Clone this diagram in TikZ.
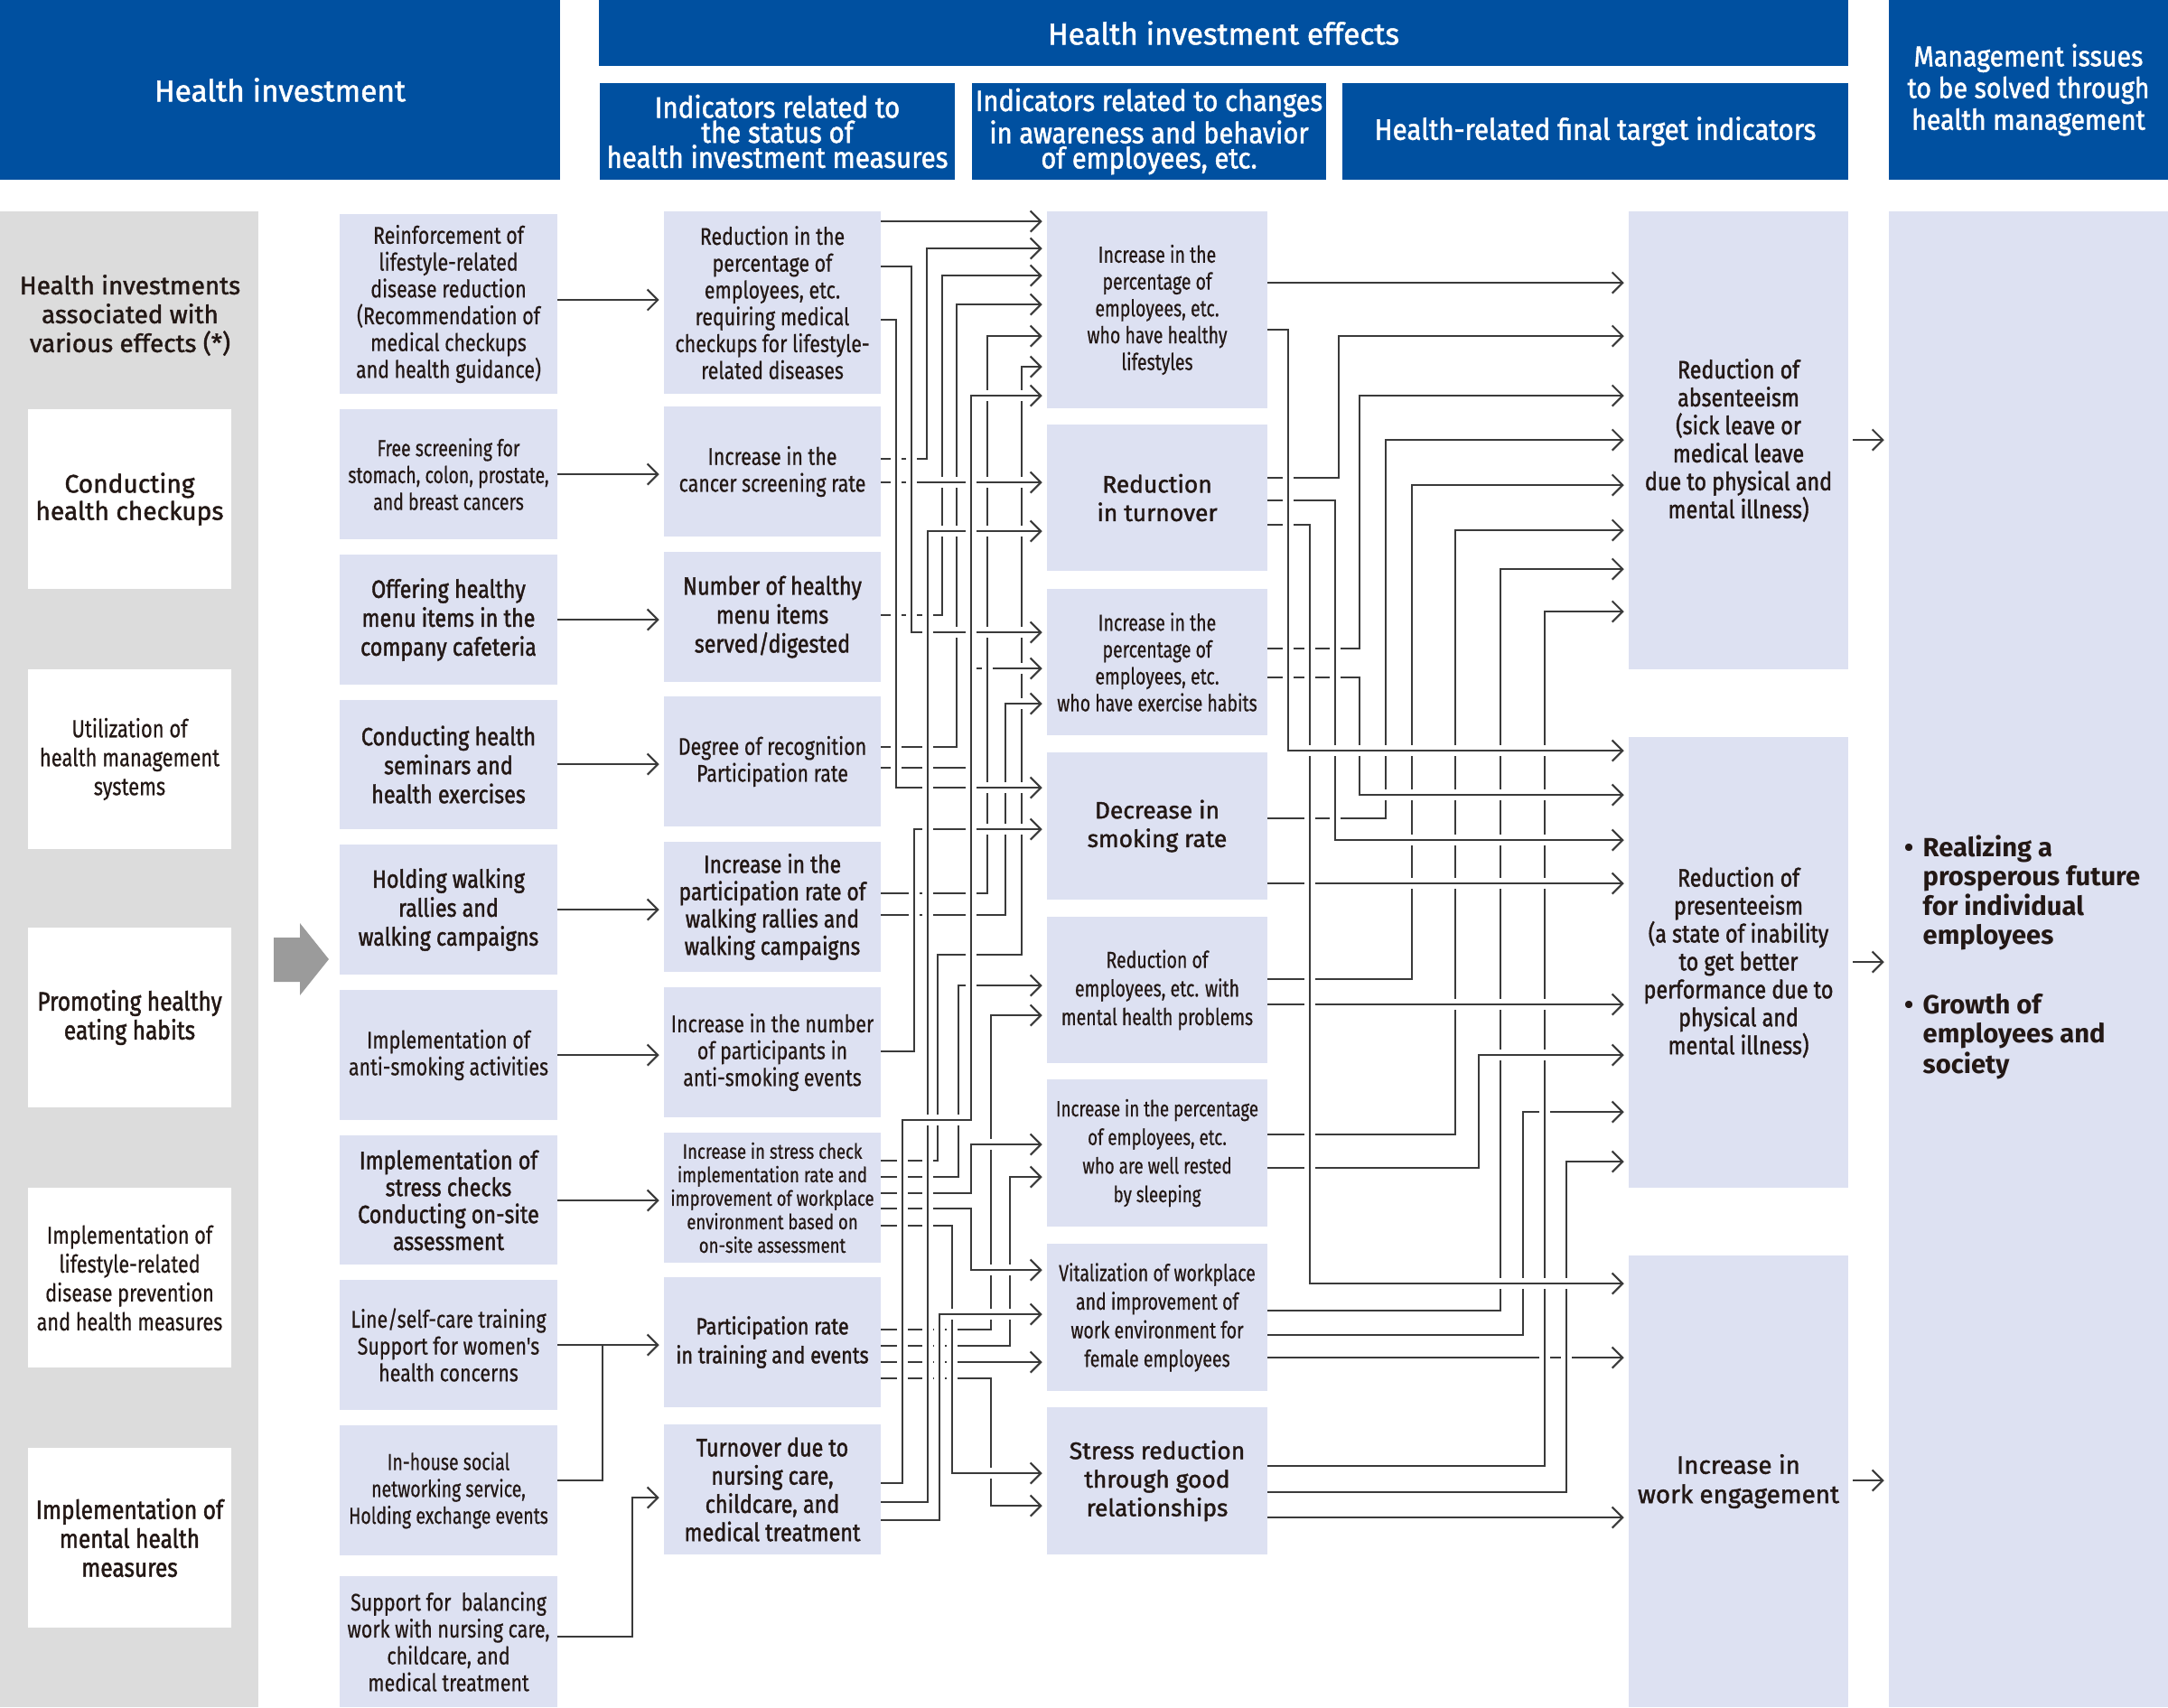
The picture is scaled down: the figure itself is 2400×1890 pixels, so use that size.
\documentclass[tikz,border=0pt]{standalone}
\usepackage{fontspec}
\setmainfont{Fira Sans}
\newfontfamily\cf{Fira Sans}[FakeStretch=0.8,FakeBold=0.5]
\newfontfamily\cfn{Fira Sans}[FakeStretch=0.76,FakeBold=0.5]
\newfontfamily\cmf{Fira Sans}[FakeStretch=0.84,FakeBold=1.5]
\newfontfamily\mf{Fira Sans}[FakeBold=1.5]
\newfontfamily\hf{Fira Sans}[FakeStretch=0.9,FakeBold=1.5]
\usetikzlibrary{arrows.meta}
\definecolor{hblue}{HTML}{0050A0}
\definecolor{lav}{HTML}{DDE1F2}
\definecolor{lgray}{HTML}{DCDCDC}
\definecolor{ln}{HTML}{3A3A3A}
\definecolor{tx}{HTML}{231815}
\definecolor{arrg}{HTML}{9B9B9B}
\newcommand\mkbox[7]{\node[#6, minimum width={0.01cm*(#4-#2)}, minimum height={0.01cm*(#5-#3)}] (#1) at ({(#2+#4)/2},{(#3+#5)/2}) {#7};}
\tikzset{
 base/.style={inner sep=0pt, outer sep=0pt, align=center, text=tx},
 lbox/.style={base, fill=lav},
 wbox/.style={base, fill=white},
 gbox/.style={base, fill=lgray},
 hbox/.style={base, fill=hblue, text=white},
 tC/.style={font=\cf\fontsize{7.6}{8.45}\selectfont},
 tN/.style={font=\cfn\fontsize{7.3}{8.45}\selectfont},
 tCM/.style={font=\cmf\fontsize{7.9}{9.1}\selectfont},
 tM/.style={font=\mf\fontsize{7.5}{9}\selectfont},
 tS/.style={font=\cf\fontsize{6.6}{7.4}\selectfont},
 tR/.style={font=\cmf\fontsize{7.9}{8.8}\selectfont},
 cn/.style={draw=ln, line width=0.6pt, preaction={draw=white, line width=3.6pt, -}},
 pl/.style={draw=ln, line width=0.6pt},
 ar/.style={-{Straight Barb[length=3.3pt,width=6.6pt]}, shorten >=1.5pt},
}
\begin{document}
\begin{tikzpicture}[x=0.01cm,y=-0.01cm]
\useasboundingbox (0,0) rectangle (2400,1890);
% headers
\mkbox{h1}{0}{0}{620}{199}{hbox, font=\mf\fontsize{9.5}{10}\selectfont}{Health investment}
\mkbox{h2}{663}{0}{2046}{73}{hbox, font=\mf\fontsize{9.5}{10}\selectfont}{Health investment effects}
\mkbox{s1}{664}{92}{1057}{199}{hbox, font=\hf\fontsize{9.3}{7.9}\selectfont}{Indicators related to\\the status of\\health investment measures}
\mkbox{s2}{1076}{92}{1468}{199}{hbox, font=\hf\fontsize{9.2}{7.9}\selectfont}{Indicators related to changes\\in awareness and behavior\\of employees, etc.}
\mkbox{s3}{1486}{92}{2046}{199}{hbox, font=\hf\fontsize{9.3}{7.9}\selectfont}{Health-related final target indicators}
\mkbox{h3}{2091}{0}{2400}{199}{hbox, font=\hf\fontsize{9}{10}\selectfont}{Management issues\\to be solved through\\health management}
% left gray column
\mkbox{g0}{0}{234}{286}{1890}{gbox}{}
\node[base, font=\mf\fontsize{7.9}{9.1}\selectfont] (gt) at (144,349) {Health investments\\associated with\\various effects (*)};
\mkbox{w1}{31}{453}{256}{652}{wbox, font=\mf\fontsize{8}{8.6}\selectfont}{Conducting\\health checkups}
\mkbox{w2}{31}{741}{256}{940}{wbox, font=\cf\fontsize{7.8}{9.1}\selectfont}{Utilization of\\health management\\systems}
\mkbox{w3}{31}{1027}{256}{1226}{wbox, font=\cmf\fontsize{8.3}{9.1}\selectfont}{Promoting healthy\\eating habits}
\mkbox{w4}{31}{1315}{256}{1514}{wbox, font=\cf\fontsize{7.7}{9.1}\selectfont}{Implementation of\\lifestyle-related\\disease prevention\\and health measures}
\mkbox{w5}{31}{1603}{256}{1802}{wbox, font=\cmf\fontsize{8.3}{9.1}\selectfont}{Implementation of\\mental health\\measures}
\fill[arrg] (303,1038) -- (332,1038) -- (332,1022) -- (364,1062) -- (332,1102) -- (332,1087) -- (303,1087) -- cycle;
% column 1
\mkbox{a1}{376}{237}{617}{436}{lbox, tC}{Reinforcement of\\lifestyle-related\\disease reduction\\(Recommendation of\\medical checkups\\and health guidance)}
\mkbox{a2}{376}{453}{617}{597}{lbox, tN}{Free screening for\\stomach, colon, prostate,\\and breast cancers}
\mkbox{a3}{376}{614}{617}{758}{lbox, tCM}{Offering healthy\\menu items in the\\company cafeteria}
\mkbox{a4}{376}{775}{617}{918}{lbox, tCM}{Conducting health\\seminars and\\health exercises}
\mkbox{a5}{376}{935}{617}{1079}{lbox, tCM}{Holding walking\\rallies and\\walking campaigns}
\mkbox{a6}{376}{1096}{617}{1240}{lbox, tC}{Implementation of\\anti-smoking activities}
\mkbox{a7}{376}{1257}{617}{1400}{lbox, tCM, font=\cmf\fontsize{7.9}{8.5}\selectfont}{Implementation of\\stress checks\\Conducting on-site\\assessment}
\mkbox{a8}{376}{1417}{617}{1561}{lbox, tC}{Line/self-care training\\Support for women's\\health concerns}
\mkbox{a9}{376}{1578}{617}{1722}{lbox, tN}{In-house social\\networking service,\\Holding exchange events}
\mkbox{a10}{376}{1745}{617}{1890}{lbox, tC}{Support for \ balancing\\work with nursing care,\\childcare, and\\medical treatment}
% column 2
\mkbox{b1}{735}{234}{975}{436}{lbox, tC}{Reduction in the\\percentage of\\employees, etc.\\requiring medical\\checkups for lifestyle-\\related diseases}
\mkbox{b2}{735}{450}{975}{594}{lbox, tC}{Increase in the\\cancer screening rate}
\mkbox{b3}{735}{611}{975}{755}{lbox, tCM}{Number of healthy\\menu items\\served/digested}
\mkbox{b4}{735}{771}{975}{915}{lbox, tC}{Degree of recognition\\Participation rate}
\mkbox{b5}{735}{932}{975}{1076}{lbox, tCM, font=\cmf\fontsize{7.7}{8.6}\selectfont}{Increase in the\\participation rate of\\walking rallies and\\walking campaigns}
\mkbox{b6}{735}{1093}{975}{1237}{lbox, tC}{Increase in the number\\of participants in\\anti-smoking events}
\mkbox{b7}{735}{1254}{975}{1398}{lbox, tS}{Increase in stress check\\implementation rate and\\improvement of workplace\\environment based on\\on-site assessment}
\mkbox{b8}{735}{1414}{975}{1558}{lbox, font=\cmf\fontsize{7.3}{9.1}\selectfont}{Participation rate\\in training and events}
\mkbox{b9}{735}{1577}{975}{1721}{lbox, tCM, font=\cmf\fontsize{7.9}{8.9}\selectfont}{Turnover due to\\nursing care,\\childcare, and\\medical treatment}
% column 3
\mkbox{c1}{1159}{234}{1403}{452}{lbox, tN}{Increase in the\\percentage of\\employees, etc.\\who have healthy\\lifestyles}
\mkbox{c2}{1159}{470}{1403}{632}{lbox, tM}{Reduction\\in turnover}
\mkbox{c3}{1159}{652}{1403}{814}{lbox, tN}{Increase in the\\percentage of\\employees, etc.\\who have exercise habits}
\mkbox{c4}{1159}{833}{1403}{996}{lbox, tM}{Decrease in\\smoking rate}
\mkbox{c5}{1159}{1015}{1403}{1177}{lbox, font=\cfn\fontsize{7.3}{9}\selectfont}{Reduction of\\employees, etc. with\\mental health problems}
\mkbox{c6}{1159}{1195}{1403}{1358}{lbox, font=\cfn\fontsize{7}{9}\selectfont}{Increase in the percentage\\of employees, etc.\\who are well rested\\by sleeping}
\mkbox{c7}{1159}{1377}{1403}{1540}{lbox, font=\cfn\fontsize{7.3}{9}\selectfont}{Vitalization of workplace\\and improvement of\\work environment for\\female employees}
\mkbox{c8}{1159}{1558}{1403}{1721}{lbox, tM}{Stress reduction\\through good\\relationships}
% column 4
\mkbox{d1}{1803}{234}{2046}{741}{lbox, tR}{Reduction of\\absenteeism\\(sick leave or\\medical leave\\due to physical and\\mental illness)}
\mkbox{d2}{1803}{816}{2046}{1315}{lbox, tR}{Reduction of\\presenteeism\\(a state of inability\\to get better\\performance due to\\physical and\\mental illness)}
\mkbox{d3}{1803}{1390}{2046}{1890}{lbox, font=\mf\fontsize{7.9}{9.2}\selectfont}{Increase in\\work engagement}
% column 5
\mkbox{e1}{2091}{234}{2400}{1890}{lbox}{}
\node[base, anchor=west, align=left, font=\bfseries\fontsize{8.3}{9.1}\selectfont] (e1t) at (2108,990) {\begin{tabular}{@{}l@{\hspace{3pt}}l@{}}\textbullet & Realizing a\\ & prosperous future\\ & for individual\\ & employees\end{tabular}};
\node[base, anchor=west, align=left, font=\bfseries\fontsize{8.3}{9.1}\selectfont] (e2t) at (2108,1149) {\begin{tabular}{@{}l@{\hspace{3pt}}l@{}}\textbullet & Growth of\\ & employees and\\ & society\end{tabular}};
% col1 -> col2
\draw[pl, ar] (a1.east |- 0,332) -- (b1.west |- 0,332);
\draw[pl, ar] (a2.east |- 0,525) -- (b2.west |- 0,525);
\draw[pl, ar] (a3.east |- 0,686) -- (b3.west |- 0,686);
\draw[pl, ar] (a4.east |- 0,846) -- (b4.west |- 0,846);
\draw[pl, ar] (a5.east |- 0,1007) -- (b5.west |- 0,1007);
\draw[pl, ar] (a6.east |- 0,1168) -- (b6.west |- 0,1168);
\draw[pl, ar] (a7.east |- 0,1329) -- (b7.west |- 0,1329);
\draw[pl] (a9.east |- 0,1639) -| (667,1489);
\draw[pl, ar] (a8.east |- 0,1489) -- (b8.west |- 0,1489);
\draw[pl, ar] (a10.east |- 0,1812) -| (700,1658) -- (b9.west |- 0,1658);
% col2 -> col3
\draw[cn, ar] (b7.east |- 0,1285) -| (1038,1057) -| (1131,406) -- (c1.west |- 0,406);
\draw[cn, ar] (b4.east |- 0,850) -| (1075,740) -- (c3.west |- 0,740);
\draw[cn, ar] (b5.east |- 0,989) -| (1093,372) -- (c1.west |- 0,372);
\draw[cn, ar] (b5.east |- 0,1013) -| (1113,779) -- (c3.west |- 0,779);
\draw[cn, ar] (b4.east |- 0,827) -| (1059,337) -- (c1.west |- 0,337);
\draw[cn, ar] (b3.east |- 0,681) -| (1043,305) -- (c1.west |- 0,305);
\draw[cn, ar] (b2.east |- 0,508) -| (1026,275) -- (c1.west |- 0,275);
\draw[cn, ar] (b2.east |- 0,534) -- (c2.west |- 0,534);
\draw[cn, ar] (b6.east |- 0,1164) -| (1012,918) -- (c4.west |- 0,918);
\draw[cn, ar] (b7.east |- 0,1303) -| (1061,1091) -- (c5.west |- 0,1091);
\draw[cn, ar] (b8.east |- 0,1472) -| (1097,1124) -- (c5.west |- 0,1124);
\draw[cn, ar] (b8.east |- 0,1490) -| (1118,1303) -- (c6.west |- 0,1303);
\draw[cn, ar] (b8.east |- 0,1526) -| (1097,1667) -- (c8.west |- 0,1667);
\draw[cn, ar] (b8.east |- 0,1508) -- (c7.west |- 0,1508);
\draw[cn, ar] (b7.east |- 0,1321) -| (1075,1267) -- (c6.west |- 0,1267);
\draw[cn, ar] (b7.east |- 0,1338) -| (1075,1406) -- (c7.west |- 0,1406);
\draw[cn, ar] (b7.east |- 0,1357) -| (1054,1631) -- (c8.west |- 0,1631);
\draw[cn, ar] (b9.east |- 0,1683) -| (1040,1455) -- (c7.west |- 0,1455);
\draw[cn, ar] (b1.east |- 0,295) -| (1009,700) -- (c3.west |- 0,700);
\draw[cn, ar] (b1.east |- 0,354) -| (992,872) -- (c4.west |- 0,872);
\draw[cn, ar] (b1.east |- 0,245) -- (c1.west |- 0,245);
\draw[cn, ar] (b9.east |- 0,1663) -| (1027,588) -- (c2.west |- 0,588);
\draw[cn, ar] (b9.east |- 0,1642) -| (999,1240) -| (1075,438) -- (c1.west |- 0,438);
% col3 -> col4
\draw[cn, ar] (c7.east |- 0,1503) -- (d3.west |- 0,1503);
\draw[cn, ar] (c8.east |- 0,1680) -- (d3.west |- 0,1680);
\draw[cn, ar] (c7.east |- 0,1478) -| (1686,1231) -- (d2.west |- 0,1231);
\draw[cn, ar] (c8.east |- 0,1623) -| (1710,677) -- (d1.west |- 0,677);
\draw[cn, ar] (c8.east |- 0,1652) -| (1734,1286) -- (d2.west |- 0,1286);
\draw[cn, ar] (c7.east |- 0,1451) -| (1661,630) -- (d1.west |- 0,630);
\draw[cn, ar] (c6.east |- 0,1293) -| (1637,1168) -- (d2.west |- 0,1168);
\draw[cn, ar] (c6.east |- 0,1256) -| (1611,587) -- (d1.west |- 0,587);
\draw[cn, ar] (c5.east |- 0,1084) -| (1563,537) -- (d1.west |- 0,537);
\draw[cn, ar] (c5.east |- 0,1112) -- (d2.west |- 0,1112);
\draw[cn, ar] (c4.east |- 0,906) -| (1534,487) -- (d1.west |- 0,487);
\draw[cn, ar] (c4.east |- 0,978) -- (d2.west |- 0,978);
\draw[cn, ar] (c3.east |- 0,718) -| (1505,438) -- (d1.west |- 0,438);
\draw[cn, ar] (c3.east |- 0,750) -| (1505,880) -- (d2.west |- 0,880);
\draw[cn, ar] (c2.east |- 0,529) -| (1482,372) -- (d1.west |- 0,372);
\draw[cn, ar] (c2.east |- 0,554) -| (1478,930) -- (d2.west |- 0,930);
\draw[cn, ar] (c2.east |- 0,581) -| (1450,1421) -- (d3.west |- 0,1421);
\draw[cn, ar] (c1.east |- 0,365) -| (1426,831) -- (d2.west |- 0,831);
\draw[cn, ar] (c1.east |- 0,313) -- (d1.west |- 0,313);
% col4 -> col5
\draw[pl, ar] ([xshift=1.5pt]d1.east |- 0,487) -- (e1.west |- 0,487);
\draw[pl, ar] ([xshift=1.5pt]d2.east |- 0,1065) -- (e1.west |- 0,1065);
\draw[pl, ar] ([xshift=1.5pt]d3.east |- 0,1639) -- (e1.west |- 0,1639);
\end{tikzpicture}
\end{document}
